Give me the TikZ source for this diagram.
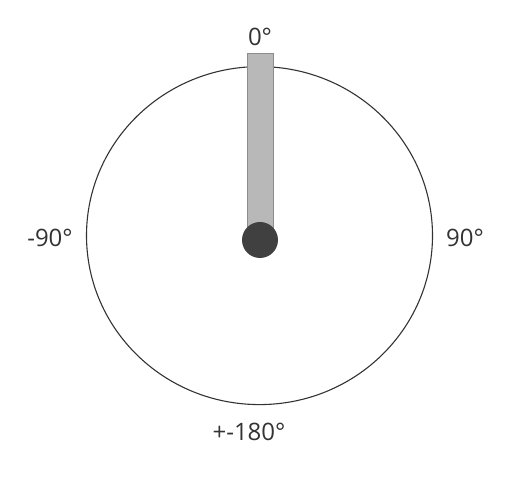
\documentclass[tikz,border=0pt]{standalone}
\usepackage{fontspec}
\setmainfont{Open Sans}
\begin{document}
\begin{tikzpicture}[x=1pt,y=-1pt,
  lbl/.style={font=\fontsize{24}{28}\selectfont, text=black!80, inner sep=0pt},
  dial/.style={draw=black!80, line width=1.1pt},
  barbox/.style={draw=black!45, fill=black!28, line width=1pt},
  knob/.style={circle, fill=black!75, draw=none, minimum size=36pt, inner sep=0pt}]
\useasboundingbox (0,0) rectangle (523,478);
\draw[dial] (259.5,235.6) ellipse [x radius=173, y radius=169];
\draw[barbox] (247,53.5) rectangle (273,235);
\node[knob] (k) at (260,240) {};
\node[lbl] (t0) at (260,37) {0°};
\node[lbl] (tl) at (50,238) {-90°};
\node[lbl] (tr) at (465,238) {90°};
\node[lbl] (tb) at (249,432) {+-180°};
\end{tikzpicture}
\end{document}
